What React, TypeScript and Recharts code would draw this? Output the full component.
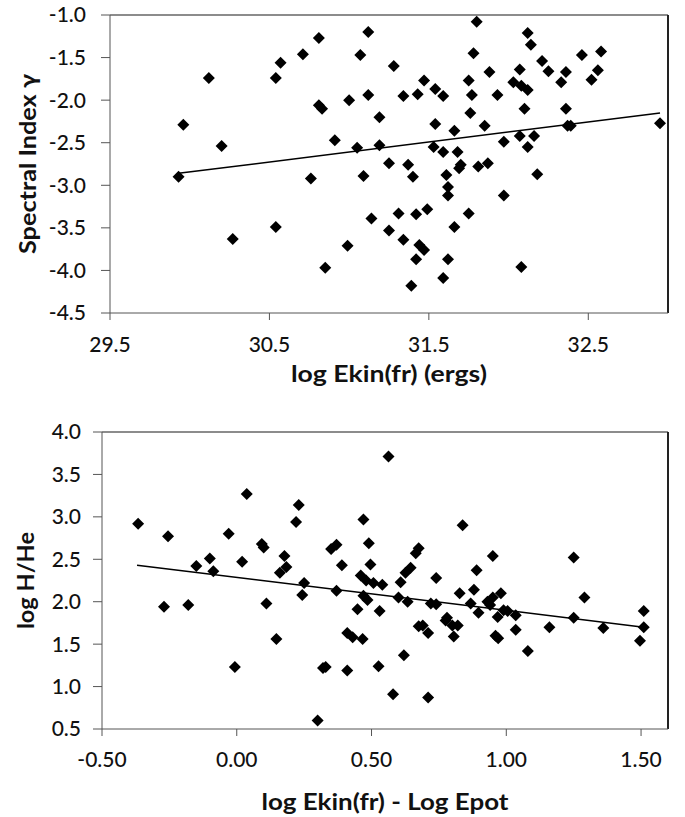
import { ScatterChart, Scatter, XAxis, YAxis, ReferenceLine, Label } from 'recharts';

const FONT = 'Lato, "Open Sans", sans-serif';

// upper panel: spectral index vs log Ekin(fr)
const ekinX = [
  29.93, 29.96, 30.12, 30.2, 30.27, 30.54, 30.57, 30.54, 30.71, 30.81,
  30.81, 30.83, 30.76, 30.85, 30.91, 31.0, 30.99, 31.07, 31.12, 31.12,
  31.05, 31.09, 31.14, 31.19, 31.19, 31.25, 31.25, 31.28, 31.31, 31.34,
  31.34, 31.37, 31.4, 31.39, 31.42, 31.42, 31.43, 31.44, 31.47, 31.47,
  31.49, 31.53, 31.54, 31.54, 31.59, 31.59, 31.59, 31.61, 31.62, 31.62,
  31.62, 31.66, 31.66, 31.68, 31.7, 31.69, 31.75, 31.75, 31.76, 31.77,
  31.78, 31.8, 31.81, 31.85, 31.87, 31.88, 31.93, 31.97, 31.97, 32.03,
  32.07, 32.07, 32.08, 32.08, 32.1, 32.12, 32.12, 32.12, 32.14, 32.16,
  32.18, 32.21, 32.25, 32.33, 32.36, 32.36, 32.37, 32.39, 32.46, 32.52,
  32.56, 32.58, 32.95,
];
const gammaY = [
  -2.9, -2.29, -1.74, -2.54, -3.63, -1.74, -1.56, -3.49, -1.46, -1.27,
  -2.06, -2.1, -2.92, -3.97, -2.47, -2.0, -3.71, -1.47, -1.2, -1.94,
  -2.56, -2.89, -3.39, -2.2, -2.53, -2.74, -3.53, -1.6, -3.33, -1.95,
  -3.64, -2.76, -2.9, -4.18, -3.34, -3.87, -1.93, -3.7, -1.77, -3.76,
  -3.28, -2.55, -1.87, -2.28, -1.95, -2.61, -4.09, -2.88, -3.02, -3.12,
  -3.87, -2.36, -3.49, -2.61, -2.76, -2.8, -1.77, -3.33, -2.15, -1.94,
  -1.45, -1.08, -2.78, -2.3, -2.74, -1.67, -1.94, -2.49, -3.12, -1.79,
  -1.64, -2.42, -1.83, -3.96, -2.1, -1.21, -1.88, -2.55, -1.35, -2.42,
  -2.87, -1.54, -1.66, -1.79, -1.67, -2.1, -2.3, -2.3, -1.47, -1.76,
  -1.65, -1.43, -2.27,
];
const ekinTicks = [29.5, 30.5, 31.5, 32.5];
const gammaTicks = [-4.5, -4.0, -3.5, -3.0, -2.5, -2.0, -1.5, -1.0];
const gammaFitX = [29.93, 32.95];
const gammaFitY = [-2.86, -2.15];

// lower panel: log H/He vs log Ekin(fr) - log Epot
const diffX = [
  -0.366, -0.255, -0.27, -0.18, -0.15, -0.1, -0.087, -0.03, -0.007, 0.02,
  0.037, 0.093, 0.1, 0.11, 0.147, 0.16, 0.177, 0.184, 0.22, 0.23,
  0.243, 0.25, 0.3, 0.32, 0.33, 0.35, 0.37, 0.37, 0.39, 0.41,
  0.41, 0.43, 0.448, 0.46, 0.467, 0.47, 0.47, 0.48, 0.485, 0.49,
  0.496, 0.507, 0.526, 0.53, 0.54, 0.563, 0.58, 0.6, 0.608, 0.62,
  0.626, 0.634, 0.645, 0.664, 0.675, 0.675, 0.69, 0.71, 0.71, 0.72,
  0.74, 0.74, 0.775, 0.78, 0.8, 0.805, 0.82, 0.827, 0.838, 0.868,
  0.88, 0.89, 0.897, 0.93, 0.94, 0.95, 0.95, 0.96, 0.968, 0.97,
  0.98, 0.99, 1.005, 1.035, 1.035, 1.08, 1.16, 1.25, 1.25, 1.29,
  1.36, 1.496, 1.51, 1.51,
];
const hheY = [
  2.92, 2.77, 1.94, 1.96, 2.42, 2.51, 2.36, 2.8, 1.23, 2.47,
  3.27, 2.68, 2.64, 1.98, 1.56, 2.34, 2.54, 2.41, 2.94, 3.14,
  2.08, 2.22, 0.6, 1.22, 1.23, 2.62, 2.67, 2.13, 2.43, 1.19,
  1.63, 1.58, 1.91, 2.31, 1.56, 2.97, 2.07, 2.25, 2.02, 2.69,
  2.44, 2.22, 1.24, 1.89, 2.2, 3.71, 0.91, 2.05, 2.23, 1.37,
  2.34, 2.0, 2.4, 2.57, 2.63, 1.71, 1.72, 1.63, 0.87, 1.98,
  1.97, 2.28, 1.78, 1.81, 1.72, 1.59, 1.72, 2.1, 2.9, 1.98,
  2.14, 2.37, 1.87, 2.0, 1.96, 2.05, 2.54, 1.6, 1.82, 1.57,
  2.1, 1.9, 1.89, 1.84, 1.67, 1.42, 1.7, 2.52, 1.81, 2.05,
  1.69, 1.54, 1.7, 1.89,
];
const diffTicks = [-0.5, 0, 0.5, 1.0, 1.5];
const hheTicks = [0.5, 1.0, 1.5, 2.0, 2.5, 3.0, 3.5, 4.0];
const hheFitX = [-0.37, 1.51];
const hheFitY = [2.43, 1.7];

const gammaPoints = ekinX.map((x, i) => ({ x, y: gammaY[i] }));
const hhePoints = diffX.map((x, i) => ({ x, y: hheY[i] }));

function Diamond(props: any) {
  const { cx, cy } = props;
  if (cx == null || cy == null) return <g />;
  const r = 6;
  return <path d={`M${cx},${cy - r}L${cx + r},${cy}L${cx},${cy + r}L${cx - r},${cy}Z`} fill="#000" />;
}

const tickStyle = { fill: '#111', fontSize: 21, fontFamily: FONT, fontWeight: 500 };
const titleStyle = { fill: '#111', fontSize: 22, fontFamily: FONT, fontWeight: 700 };

// width of each title in the picture, so the glyphs get stretched like the original
function yTitle(text: string, dx: number, len: number) {
  return ({ viewBox }: any) => {
    const cx = viewBox.x + dx;
    const cy = viewBox.y + viewBox.height / 2;
    return (
      <text
        x={cx}
        y={cy}
        transform={`rotate(-90 ${cx} ${cy})`}
        textAnchor="middle"
        dominantBaseline="central"
        textLength={len}
        lengthAdjust="spacingAndGlyphs"
        style={titleStyle}
      >
        {text}
      </text>
    );
  };
}

function xTitle(text: string, dy: number, len: number) {
  return ({ viewBox }: any) => (
    <text
      x={viewBox.x + viewBox.width / 2}
      y={viewBox.y + dy}
      textAnchor="middle"
      dominantBaseline="central"
      textLength={len}
      lengthAdjust="spacingAndGlyphs"
      style={titleStyle}
    >
      {text}
    </text>
  );
}

export default function App() {
  return (
    <div style={{ position: 'absolute', left: 0, top: 0, width: 685, height: 817, background: '#fff' }}>
      <ScatterChart width={685} height={395} margin={{ top: 15, right: 17, bottom: 0, left: 0 }}>
        <XAxis
          type="number"
          dataKey="x"
          domain={[29.5, 33]}
          ticks={ekinTicks}
          allowDataOverflow
          height={82}
          tickSize={7}
          tickMargin={17}
          tick={tickStyle}
          tickFormatter={(v) => v.toFixed(1)}
          axisLine={{ stroke: '#555' }}
          tickLine={{ stroke: '#555' }}
        >
          <Label content={xTitle('log Ekin(fr) (ergs)', 60, 196)} />
        </XAxis>
        <YAxis
          type="number"
          dataKey="y"
          domain={[-4.5, -1]}
          ticks={gammaTicks}
          allowDataOverflow
          width={110}
          tickSize={9}
          tickMargin={15}
          tick={tickStyle}
          tickFormatter={(v) => v.toFixed(1)}
          axisLine={{ stroke: '#555' }}
          tickLine={{ stroke: '#555' }}
        >
          <Label content={yTitle('Spectral Index γ', 27, 180)} />
        </YAxis>
        <ReferenceLine y={-1} stroke="#666" strokeWidth={1.5} />
        <ReferenceLine x={33} stroke="#222" strokeWidth={2} />
        <Scatter data={gammaPoints} shape={(p: any) => <Diamond {...p} />} isAnimationActive={false} />
        <ReferenceLine
          segment={[
            { x: gammaFitX[0], y: gammaFitY[0] },
            { x: gammaFitX[1], y: gammaFitY[1] },
          ]}
          stroke="#000"
          strokeWidth={1.5}
        />
      </ScatterChart>
      <ScatterChart width={685} height={422} margin={{ top: 37, right: 17, bottom: 0, left: 0 }}>
        <XAxis
          type="number"
          dataKey="x"
          domain={[-0.5, 1.6]}
          ticks={diffTicks}
          allowDataOverflow
          height={88}
          tickSize={7}
          tickMargin={16}
          tick={tickStyle}
          tickFormatter={(v) => v.toFixed(2)}
          axisLine={{ stroke: '#555' }}
          tickLine={{ stroke: '#555' }}
        >
          <Label content={xTitle('log Ekin(fr) - Log Epot', 72, 247)} />
        </XAxis>
        <YAxis
          type="number"
          dataKey="y"
          domain={[0.5, 4]}
          ticks={hheTicks}
          allowDataOverflow
          width={102}
          tickSize={9}
          tickMargin={12}
          tick={tickStyle}
          tickFormatter={(v) => v.toFixed(1)}
          axisLine={{ stroke: '#555' }}
          tickLine={{ stroke: '#555' }}
        >
          <Label content={yTitle('log H/He', 25, 97)} />
        </YAxis>
        <ReferenceLine y={4} stroke="#666" strokeWidth={1.5} />
        <ReferenceLine x={1.6} stroke="#222" strokeWidth={2} />
        <Scatter data={hhePoints} shape={(p: any) => <Diamond {...p} />} isAnimationActive={false} />
        <ReferenceLine
          segment={[
            { x: hheFitX[0], y: hheFitY[0] },
            { x: hheFitX[1], y: hheFitY[1] },
          ]}
          stroke="#000"
          strokeWidth={1.5}
        />
      </ScatterChart>
    </div>
  );
}
